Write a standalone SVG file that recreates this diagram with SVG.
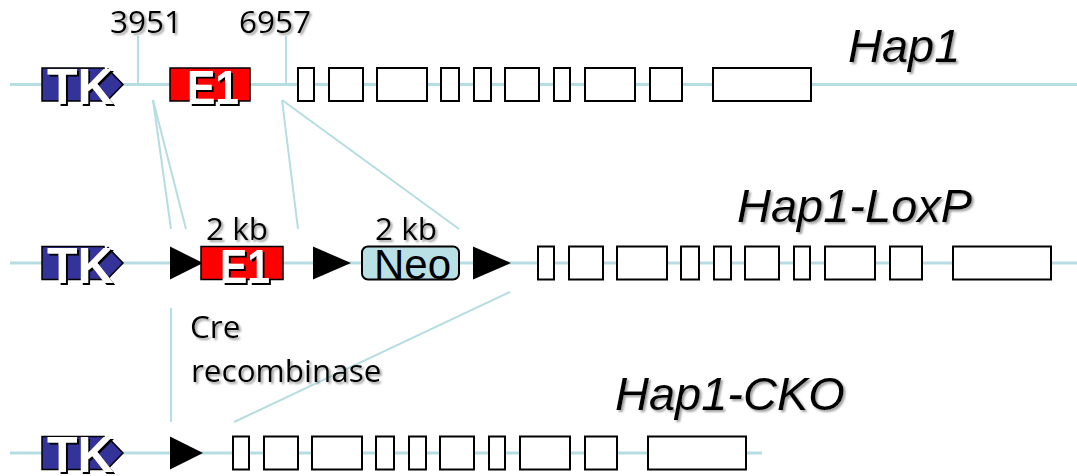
<svg xmlns="http://www.w3.org/2000/svg" width="1077" height="476" viewBox="0 0 1077 476">
<style>
.dna{stroke:#b5dde2;stroke-width:3;fill:none}
.conn{stroke:#b5dde2;stroke-width:2;fill:none}
.exon{fill:#fff;stroke:#000;stroke-width:2}
.tk{fill:#333399;stroke:#000;stroke-width:1.5}
.e1{fill:#ff0000;stroke:#000;stroke-width:1.5}
.neo{fill:#b9e0e4;stroke:#000;stroke-width:2}
.lox{fill:#000}
.wt{font-family:"Liberation Sans",Arial,sans-serif;font-weight:bold;fill:#fff;filter:url(#sdark)}
.lbl{font-family:"Open Sans","Liberation Sans",sans-serif;font-size:31.5px;fill:#000;filter:url(#sgray)}
.name{font-family:"Liberation Sans",Arial,sans-serif;font-style:italic;font-size:47px;fill:#000;filter:url(#sgray)}
</style>
<defs>
<filter id="sdark" x="-20%" y="-20%" width="150%" height="150%"><feDropShadow dx="2" dy="2" stdDeviation="0.4" flood-color="#000" flood-opacity="1"/></filter>
<filter id="sgray" x="-20%" y="-20%" width="150%" height="150%"><feDropShadow dx="2" dy="2" stdDeviation="1" flood-color="#777" flood-opacity="0.7"/></filter>
<g id="exons">
<rect class="exon" x="0" y="0" width="16" height="33"/>
<rect class="exon" x="31" y="0" width="34" height="33"/>
<rect class="exon" x="79" y="0" width="50" height="33"/>
<rect class="exon" x="143" y="0" width="18" height="33"/>
<rect class="exon" x="176" y="0" width="17" height="33"/>
<rect class="exon" x="207" y="0" width="34" height="33"/>
<rect class="exon" x="256" y="0" width="16" height="33"/>
<rect class="exon" x="287" y="0" width="50" height="33"/>
<rect class="exon" x="352" y="0" width="32" height="33"/>
<rect class="exon" x="415" y="0" width="98" height="33"/>
</g>
<g id="tkshape">
<rect class="tk" x="42" y="0" width="62" height="33"/>
<polygon class="tk" points="108,1 123,16.5 108,32 93,16.5"/>
</g>
</defs>

<g id="connectors">
<line class="dna" x1="10" y1="84.5" x2="1077" y2="84.5"/>
<line class="dna" x1="10" y1="263" x2="1077" y2="263"/>
<line class="dna" x1="10" y1="453" x2="762" y2="453"/>
<line class="conn" x1="138" y1="36" x2="138" y2="84"/>
<line class="conn" x1="286" y1="36" x2="286" y2="84"/>
<line class="conn" x1="153" y1="100" x2="171" y2="229"/>
<line class="conn" x1="153" y1="100" x2="186" y2="229"/>
<line class="conn" x1="282" y1="100" x2="298" y2="229"/>
<line class="conn" x1="282" y1="100" x2="459" y2="229"/>
<line class="conn" x1="171" y1="308" x2="171" y2="422"/>
<line class="conn" x1="234" y1="422" x2="510" y2="292"/>
</g>

<g id="hap1">
<g id="hap1-tk"><use href="#tkshape" y="68"/><text class="wt" x="47" y="104" font-size="50">TK</text></g>
<g id="hap1-e1"><rect class="e1" x="170" y="68" width="80" height="33"/><text class="wt" x="187" y="104" font-size="49" textLength="52" lengthAdjust="spacingAndGlyphs">E1</text></g>
<g id="hap1-exons"><use href="#exons" x="298" y="68"/></g>
<text class="lbl" x="110" y="33">3951</text>
<text class="lbl" x="239" y="33">6957</text>
<text class="name" x="848" y="62">Hap1</text>
</g>

<g id="hap1-loxp">
<g id="loxp-tk"><use href="#tkshape" y="246.5"/><text class="wt" x="47" y="282.5" font-size="50">TK</text></g>
<g id="loxp-site1"><polygon class="lox" points="170,246.5 170,279.5 203,263"/></g>
<g id="loxp-e1"><rect class="e1" x="201" y="246.5" width="82" height="33"/><text class="wt" x="220" y="282.5" font-size="49" textLength="50" lengthAdjust="spacingAndGlyphs">E1</text></g>
<g id="loxp-site2"><polygon class="lox" points="313,246.5 313,279.5 351,263"/></g>
<g id="loxp-neo"><rect class="neo" x="362" y="246.5" width="97" height="33" rx="6"/><text x="374" y="279" font-family="Liberation Sans,Arial,sans-serif" font-size="42" fill="#000">Neo</text></g>
<g id="loxp-site3"><polygon class="lox" points="473,246.5 473,279.5 511,263"/></g>
<g id="loxp-exons"><use href="#exons" x="538" y="246.5"/></g>
<text class="lbl" x="206" y="240">2 kb</text>
<text class="lbl" x="375" y="240">2 kb</text>
<text class="name" x="737" y="222">Hap1-LoxP</text>
</g>

<g id="cre">
<text class="lbl" x="190" y="338">Cre</text>
<text class="lbl" x="191" y="382">recombinase</text>
</g>

<g id="hap1-cko">
<g id="cko-tk"><use href="#tkshape" y="436.5"/><text class="wt" x="47" y="472" font-size="50">TK</text></g>
<g id="cko-site"><polygon class="lox" points="170,436.5 170,469.5 203,453"/></g>
<g id="cko-exons"><use href="#exons" x="233" y="436.5"/></g>
<text class="name" x="615" y="410">Hap1-CKO</text>
</g>
</svg>
